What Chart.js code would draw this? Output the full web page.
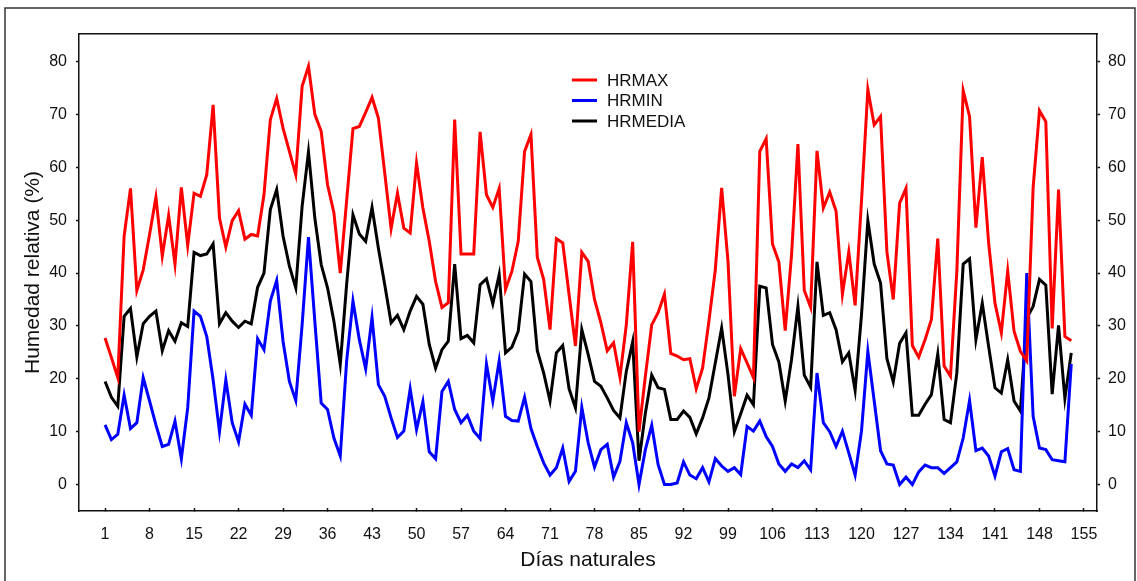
<!DOCTYPE html>
<html>
<head>
<meta charset="utf-8">
<script src="https://cdn.jsdelivr.net/npm/chart.js@4.4.1/dist/chart.umd.min.js"></script>
<style>
  html, body { margin: 0; padding: 0; background: #fff; }
  #wrap { width: 1137px; height: 581px; position: relative; }
</style>
</head>
<body>
<div id="wrap"><canvas id="chart"></canvas></div>
<script>
// day numbers (x values)
const days = Array.from({ length: 153 }, (_, i) => i + 1);

const hrmax = [
  27.7, 24, 20.2, 47, 56, 36.7, 40.6, 47.3, 54.3, 43.2, 50.9, 41.7, 56.2, 45.2, 55.1, 54.5, 58.6, 71.8, 50.4, 44.9,
  49.9, 51.8, 46.4, 47.3, 47, 54.8, 69, 73, 67.4, 63, 58.6, 75.3, 79.1, 70, 66.8, 56.7, 51.4, 40, 53.6, 67.3,
  67.7, 70.4, 73.2, 69.3, 58.9, 48.4, 55.1, 48.5, 47.6, 60.8, 52.3, 46, 38.4, 33.5, 34.4, 69, 43.6, 43.6, 43.6, 66.7,
  54.8, 52.4, 56, 36.9, 40.3, 46, 63, 66.2, 43, 38.8, 29.3, 46.5, 45.7, 35.9, 26.2, 43.9, 42.2, 35, 30.6, 25.3,
  26.8, 20.3, 30.2, 45.9, 10, 20.5, 30.2, 32.5, 36, 24.8, 24.3, 23.6, 23.8, 18.1, 22, 30.9, 40.6, 56.1, 42.2, 16.7,
  25.7, 23, 20.2, 63, 65.4, 45.5, 42.1, 29.1, 43.5, 64.4, 36.7, 33.5, 63.1, 52.3, 55.3, 51.7, 36, 44, 33.9, 53.6,
  74.7, 68, 69.6, 44, 35, 53.2, 56, 26.3, 24.1, 27.4, 31.2, 46.5, 22.4, 20.5, 40.3, 74.5, 69.6, 48.6, 61.9, 45.7,
  34.3, 28.7, 40.4, 29, 25.2, 23.4, 56.1, 70.7, 68.6, 29.5, 55.8, 28, 27.2
];

const hrmin = [
  11.3, 8.5, 9.5, 16.9, 10.6, 11.7, 20.2, 15.8, 11.3, 7.2, 7.6, 12, 4.9, 14.5, 32.8, 31.8, 28, 19.8, 10, 19.8,
  11.7, 8.1, 15.2, 13.1, 27.6, 25.5, 34.7, 38.6, 27.1, 19.5, 15.9, 30.2, 46.8, 30.9, 15.4, 14.2, 8.8, 5.4, 23.3, 34.7,
  27.4, 21.9, 31.6, 18.9, 16.7, 12.6, 8.9, 10.1, 18.1, 10.4, 15.7, 6.2, 4.9, 17.6, 19.5, 14.2, 11.7, 13.1, 10.1, 8.7,
  22.8, 15.8, 23.4, 12.9, 12.1, 12, 16.5, 10.6, 7.2, 4.1, 1.8, 3.2, 6.9, 0.6, 2.5, 14.6, 7.9, 3.3, 6.6, 7.6,
  1.4, 4.4, 11.7, 7.9, 0, 6.6, 11.2, 3.8, 0, 0, 0.3, 4.3, 1.8, 1.1, 3.2, 0.5, 4.9, 3.5, 2.5, 3.2,
  1.9, 11, 10.1, 12, 9.1, 7.2, 3.9, 2.5, 3.9, 3.2, 4.5, 2.8, 21.1, 11.7, 10, 7.2, 10.1, 6, 1.8, 10.1,
  25.2, 15.8, 6.4, 3.9, 3.7, 0, 1.4, 0, 2.4, 3.7, 3.2, 3.2, 2.1, 3.2, 4.3, 8.8, 15.9, 6.4, 6.9, 5.4,
  1.6, 6.2, 6.8, 2.8, 2.5, 40, 12.9, 6.9, 6.6, 4.7, 4.5, 4.3, 22.8
];

const hrmedia = [
  19.5, 16.5, 14.8, 31.8, 33.3, 24.1, 30.4, 31.8, 32.8, 25.3, 29.1, 27.1, 30.6, 29.9, 43.9, 43.3, 43.6, 45.5, 30.4, 32.5,
  30.9, 29.7, 30.9, 30.4, 37.3, 40, 52, 55.8, 47, 41.3, 37.2, 52.6, 62.9, 50.4, 41.6, 37.2, 30.9, 22.7, 37.8, 51,
  47.4, 46, 52.4, 44.7, 37.8, 30.6, 32, 29.3, 32.8, 35.6, 34.1, 26.5, 22, 25.5, 27.1, 41.7, 27.6, 28.2, 26.8, 37.8,
  38.9, 34.2, 39.7, 24.9, 26, 29, 39.8, 38.4, 25.3, 21.1, 15.8, 24.9, 26.3, 18.1, 14.5, 29.3, 24.6, 19.5, 18.6, 16.4,
  14, 12.6, 21.4, 27, 4.5, 13.5, 20.7, 18.3, 18, 12.3, 12.3, 13.9, 12.7, 9.6, 12.6, 16.4, 23, 29.6, 20.8, 10,
  13.4, 16.9, 15.1, 37.5, 37.2, 26.5, 23.2, 15.8, 23.7, 33.7, 20.7, 18.4, 42.1, 32, 32.5, 29.3, 23.2, 24.9, 17.8, 32.1,
  49.9, 41.7, 38.1, 23.8, 19.4, 26.7, 28.7, 13.1, 13.1, 15.2, 17, 24.7, 12.3, 11.7, 21.1, 41.7, 42.7, 27.4, 34.3, 26.1,
  18.3, 17.3, 23.6, 15.8, 13.9, 31.5, 33.7, 38.8, 37.7, 17.1, 30.1, 16.3, 24.9
];

const xTicks = [1, 8, 15, 22, 29, 36, 43, 50, 57, 64, 71, 78, 85, 92, 99, 106, 113, 120, 127, 134, 141, 148, 155];
const yTicks = [0, 10, 20, 30, 40, 50, 60, 70, 80];

const FONT = "'Liberation Sans', Arial, sans-serif";
const INK = '#111';

// outer frame round the figure
const framePlugin = {
  id: 'frame',
  beforeDraw(chart) {
    const ctx = chart.ctx;
    ctx.save();
    ctx.strokeStyle = '#333';
    ctx.lineWidth = 1.5;
    ctx.strokeRect(5, 8, 1130, 600);
    ctx.restore();
  }
};

// legend drawn inside the plot, from the datasets
const legendPlugin = {
  id: 'insideLegend',
  afterDraw(chart) {
    const ctx = chart.ctx;
    ctx.save();
    ctx.font = '17px ' + FONT;
    ctx.textBaseline = 'middle';
    chart.data.datasets.forEach((ds, i) => {
      const y = 80 + i * 20.5;
      ctx.strokeStyle = ds.borderColor;
      ctx.lineWidth = 3;
      ctx.beginPath();
      ctx.moveTo(572, y);
      ctx.lineTo(597, y);
      ctx.stroke();
      ctx.fillStyle = INK;
      ctx.fillText(ds.label, 607, y + 1);
    });
    ctx.restore();
  }
};

const yAxis = (pos, width, pad) => ({
  type: 'linear',
  position: pos,
  min: -5,
  max: 85.2,
  afterBuildTicks: (s) => { s.ticks = yTicks.map(v => ({ value: v })); },
  afterFit: (s) => { s.width = width; },
  border: { display: true, color: INK, width: 1.5 },
  grid: { drawOnChartArea: false, drawTicks: true, tickLength: 3, tickWidth: 1.5, tickColor: INK },
  ticks: { color: INK, font: { family: FONT, size: 16 }, padding: pad }
});

new Chart(document.getElementById('chart'), {
  type: 'line',
  data: {
    labels: days,
    datasets: [
      { label: 'HRMAX', data: hrmax, borderColor: '#ff0000' },
      { label: 'HRMIN', data: hrmin, borderColor: '#0000ff' },
      { label: 'HRMEDIA', data: hrmedia, borderColor: '#000000' }
    ]
  },
  options: {
    responsive: true,
    maintainAspectRatio: false,
    animation: false,
    layout: { padding: { top: 34, left: 0, right: 0, bottom: 0 } },
    elements: {
      line: { borderWidth: 3, tension: 0, borderJoinStyle: 'miter' },
      point: { radius: 0, hoverRadius: 0 }
    },
    plugins: {
      legend: { display: false },
      tooltip: { enabled: false }
    },
    scales: {
      x: {
        type: 'linear',
        position: 'bottom',
        min: -3.1,
        max: 157.05,
        afterBuildTicks: (s) => { s.ticks = xTicks.map(v => ({ value: v })); },
        afterFit: (s) => { s.height = 70; },
        border: { display: true, color: INK, width: 1.5 },
        grid: { drawOnChartArea: false, drawTicks: true, tickLength: -3, tickWidth: 1.5, tickColor: INK },
        ticks: { color: INK, font: { family: FONT, size: 16 }, padding: 17, maxRotation: 0, autoSkip: false },
        title: {
          display: true,
          text: 'Días naturales',
          color: INK,
          font: { family: FONT, size: 21 },
          padding: { top: 0, bottom: 8 }
        }
      },
      xTop: {
        type: 'linear',
        position: 'top',
        min: -3.1,
        max: 157.05,
        afterFit: (s) => { s.height = 0; },
        border: { display: true, color: INK, width: 1.5 },
        grid: { drawOnChartArea: false, drawTicks: false },
        ticks: { display: false }
      },
      y: Object.assign(yAxis('left', 79, 9), {
        title: {
          display: true,
          text: 'Humedad relativa (%)',
          color: INK,
          font: { family: FONT, size: 21 },
          padding: { top: 21, bottom: 0 }
        }
      }),
      y2: yAxis('right', 40, 8)
    }
  },
  plugins: [framePlugin, legendPlugin]
});
</script>
</body>
</html>
